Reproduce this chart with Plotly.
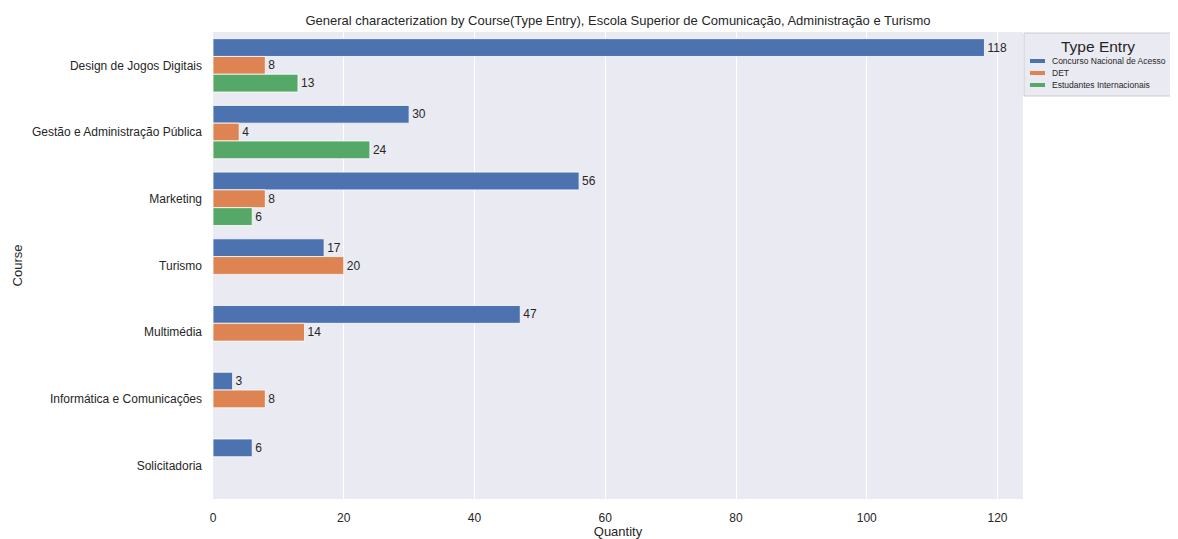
import plotly.graph_objects as go

courses = ["Design de Jogos Digitais", "Gestão e Administração Pública", "Marketing",
           "Turismo", "Multimédia", "Informática e Comunicações", "Solicitadoria"]
series_names = ["Concurso Nacional de Acesso", "DET", "Estudantes Internacionais"]
concurso = [118, 30, 56, 17, 47, 3, 6]
det = [8, 4, 8, 20, 14, 8, None]
internacionais = [13, 24, 6, None, None, None, None]
colors = ["#4C72B0", "#DD8452", "#55A868"]

fig = go.Figure()
for name, vals, col in zip(series_names, [concurso, det, internacionais], colors):
    fig.add_trace(go.Bar(
        y=courses, x=vals, name=name, orientation="h",
        marker=dict(color=col, line=dict(width=0.8, color="white")),
        text=[str(v) if v is not None else "" for v in vals],
        textposition="outside", cliponaxis=False,
        textfont=dict(size=12, color="#262626"),
        showlegend=False,
    ))

# page body has an 8px margin; figure sized so it fills the 1178x539 window
OFF = 8
FW, FH = 1170, 531
ML, MR, MT, MB = 205, 155, 24, 40
W = FW - ML - MR
H = FH - MT - MB


def px(x):
    return (x - OFF - ML) / W


def py(y):
    return 1 - (y - OFF - MT) / H


# custom legend (matplotlib style), in screen pixels
L, R, T, B = 1024, 1172, 33, 96
shapes = [dict(type="rect", xref="paper", yref="paper", x0=px(L), x1=px(R), y0=py(B), y1=py(T),
               fillcolor="#EAEAF2", line=dict(color="#CCCCCC", width=1), layer="above")]
annotations = [dict(text="Type Entry", xref="paper", yref="paper", x=px((L + R) / 2), y=py(46),
                    showarrow=False, xanchor="center", yanchor="middle",
                    font=dict(size=15.5, color="#262626"))]
for i, (name, col) in enumerate(zip(series_names, colors)):
    yy = 61 + 12 * i
    shapes.append(dict(type="line", xref="paper", yref="paper", x0=px(1030), x1=px(1045),
                       y0=py(yy), y1=py(yy), line=dict(color=col, width=4)))
    annotations.append(dict(text=name, xref="paper", yref="paper", x=px(1050), y=py(yy),
                            showarrow=False, xanchor="left", yanchor="middle",
                            font=dict(size=8.5, color="#262626")))

fig.update_layout(
    width=FW, height=FH,
    barmode="group", bargap=0.2, bargroupgap=0,
    paper_bgcolor="white", plot_bgcolor="#EAEAF2",
    font=dict(family="Liberation Sans, Arial, sans-serif", color="#262626", size=12),
    margin=dict(l=ML, r=MR, t=MT, b=MB, autoexpand=False),
    title=dict(text="General characterization by Course(Type Entry), Escola Superior de Comunicação, Administração e Turismo",
               x=0.5, xref="paper", xanchor="center", y=1 - (20 - OFF) / FH, yref="container", yanchor="middle",
               font=dict(size=13, color="#262626")),
    xaxis=dict(range=[0, 123.9], tickvals=[0, 20, 40, 60, 80, 100, 120],
               showgrid=True, gridcolor="white", gridwidth=1, zeroline=False,
               ticks="", title=dict(text="Quantity", standoff=1, font=dict(size=13)),
               tickfont=dict(size=12), ticklabelstandoff=10),
    yaxis=dict(autorange="reversed", showgrid=False, zeroline=False, ticks="",
               title=dict(text="Course", standoff=6, font=dict(size=13)),
               tickfont=dict(size=12), ticklabelstandoff=10),
    shapes=shapes, annotations=annotations,
)

fig.write_html("out.html")
